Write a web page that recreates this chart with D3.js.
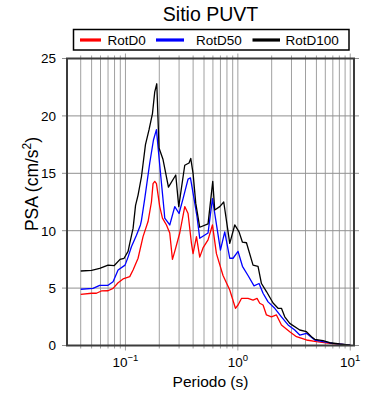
<!DOCTYPE html>
<html>
<head>
<meta charset="utf-8">
<script src="https://cdn.jsdelivr.net/npm/d3@7"></script>
<style>
body { margin: 0; background: #fff; }
text { font-family: "Liberation Sans", Arial, sans-serif; fill: #000; }
</style>
</head>
<body>
<svg id="chart" width="390" height="400"></svg>
<script>
// periods (s) and PSA (cm/s2)
var periodD100 = [0.040, 0.05, 0.059, 0.070, 0.0792, 0.0895, 0.0972, 0.1055, 0.1092, 0.1169, 0.123, 0.1295, 0.1388, 0.1507, 0.1622, 0.1739, 0.1823, 0.19, 0.199, 0.216, 0.2413, 0.2803, 0.298, 0.337, 0.368, 0.3811, 0.3995, 0.4222, 0.4581, 0.5431, 0.598, 0.6229, 0.6902, 0.749, 0.8474, 0.9385, 1.0249, 1.0988, 1.193, 1.365, 1.512, 1.622, 1.797, 2.057, 2.279, 2.443, 2.614, 2.895, 3.554, 4.077, 4.517, 4.833, 5.728, 6.571, 8.066, 10];
var valuesD100 = [6.49, 6.55, 6.72, 7.0, 6.95, 7.5, 7.6, 8.2, 8.9, 10.2, 12.2, 13.1, 14.7, 17.5, 18.8, 20.2, 22.1, 22.8, 17.2, 16.2, 13.8, 14.85, 12.1, 15.7, 15.9, 16.3, 15.0, 12.4, 10.3, 10.6, 14.3, 11.8, 12.1, 12.5, 8.9, 10.5, 9.9, 9.0, 8.95, 7.0, 6.9, 5.4, 4.7, 3.7, 3.24, 3.24, 2.5, 1.93, 1.35, 1.2, 0.77, 0.54, 0.42, 0.24, 0.13, 0.04];

var periodD50 = [0.040, 0.0515, 0.059, 0.070, 0.0776, 0.086, 0.0992, 0.1055, 0.113, 0.1253, 0.136, 0.1388, 0.1485, 0.1645, 0.1775, 0.1887, 0.2019, 0.2205, 0.2237, 0.2478, 0.2746, 0.2999, 0.3255, 0.3606, 0.3787, 0.4137, 0.4335, 0.4581, 0.5431, 0.5943, 0.7001, 0.7644, 0.8474, 0.9064, 1.004, 1.0988, 1.232, 1.393, 1.544, 1.676, 1.857, 2.13, 2.443, 2.797, 3.208, 3.554, 4.077, 4.833, 5.728, 7.03, 10];
var valuesD50 = [4.9, 4.98, 5.24, 5.24, 5.56, 6.58, 7.0, 7.7, 8.6, 9.6, 10.5, 10.9, 12.8, 15.9, 17.9, 18.8, 15.7, 11.8, 11.1, 10.5, 12.1, 11.5, 12.8, 14.5, 14.6, 12.4, 11.2, 9.34, 9.8, 12.8, 8.3, 9.9, 7.6, 7.6, 8.2, 6.9, 6.1, 5.2, 5.4, 4.55, 3.8, 3.24, 2.5, 1.79, 1.35, 0.91, 1.06, 0.48, 0.33, 0.19, 0.04];

var periodD0 = [0.040, 0.05, 0.0552, 0.0611, 0.070, 0.0776, 0.086, 0.0952, 0.1092, 0.1169, 0.1295, 0.1434, 0.1589, 0.1703, 0.176, 0.1823, 0.1887, 0.2019, 0.2134, 0.2317, 0.2478, 0.2619, 0.2746, 0.3042, 0.337, 0.3606, 0.3866, 0.3995, 0.4284, 0.4581, 0.49, 0.5431, 0.5943, 0.6449, 0.7383, 0.8474, 0.952, 1.004, 1.0765, 1.232, 1.365, 1.482, 1.566, 1.676, 1.797, 1.99, 2.205, 2.443, 2.895, 3.322, 4.077, 5.004, 6.571, 10];
var valuesD0 = [4.46, 4.55, 4.55, 4.75, 4.77, 4.98, 5.47, 5.8, 6.0, 6.58, 7.6, 9.48, 10.8, 12.5, 14.1, 14.3, 14.1, 12.1, 11.1, 10.5, 9.8, 7.5, 8.2, 9.8, 12.1, 11.5, 8.9, 8.0, 9.48, 7.7, 8.5, 9.2, 10.5, 8.0, 6.1, 4.83, 3.24, 3.53, 4.1, 4.1, 3.96, 4.1, 3.68, 3.53, 2.66, 2.5, 2.66, 1.79, 1.2, 0.77, 0.48, 0.33, 0.19, 0.04];

var seriesNames = ["RotD0", "RotD50", "RotD100"];
var seriesColors = ["#ff0000", "#0000ff", "#000000"];
var yTicks = [0, 5, 10, 15, 20, 25];
var xMajor = [0.1, 1, 10];
var xMajorSup = ["\u22121", "0", "1"];

var series = [
  {name: seriesNames[0], color: seriesColors[0], p: periodD0, v: valuesD0},
  {name: seriesNames[1], color: seriesColors[1], p: periodD50, v: valuesD50},
  {name: seriesNames[2], color: seriesColors[2], p: periodD100, v: valuesD100}
];

var plotL = 67, plotR = 354, plotT = 58.5, plotB = 345.5;

var svg = d3.select("#chart");

var x = d3.scaleLog().domain([0.0302, 10.8]).range([plotL, plotR]);
var y = d3.scaleLinear().domain([0, 25]).range([plotB, plotT]);

// log grid, every 1..9 of each decade
var xGrid = [];
[0.01, 0.1, 1, 10].forEach(function(dec){
  for (var k = 1; k < 10; k++) {
    var val = dec * k;
    if (val >= x.domain()[0] && val <= x.domain()[1]) xGrid.push(val);
  }
});

var grid = svg.append("g").attr("class", "grid");

grid.selectAll(".vgrid")
  .data(xGrid)
  .enter().append("line")
  .attr("class", "vgrid")
  .attr("x1", function(d){ return x(d); })
  .attr("x2", function(d){ return x(d); })
  .attr("y1", function(d){ return plotT - (xMajor.indexOf(d) >= 0 ? 5 : 3); })
  .attr("y2", function(d){ return plotB + (xMajor.indexOf(d) >= 0 ? 5 : 3); })
  .attr("stroke", "#a0a0a0")
  .attr("stroke-width", 1);

grid.selectAll(".hgrid")
  .data(yTicks)
  .enter().append("line")
  .attr("class", "hgrid")
  .attr("x1", plotL - 5)
  .attr("x2", plotR + 5)
  .attr("y1", function(d){ return y(d); })
  .attr("y2", function(d){ return y(d); })
  .attr("stroke", "#909090")
  .attr("stroke-width", 1);

var line = d3.line()
  .x(function(d){ return x(d[0]); })
  .y(function(d){ return y(d[1]); });

svg.append("g").selectAll("path")
  .data(series)
  .enter().append("path")
  .attr("d", function(s){ return line(d3.zip(s.p, s.v)); })
  .attr("fill", "none")
  .attr("stroke", function(s){ return s.color; })
  .attr("stroke-width", 1.3)
  .attr("stroke-linejoin", "round");

// frame
svg.append("rect")
  .attr("x", plotL).attr("y", plotT)
  .attr("width", plotR - plotL).attr("height", plotB - plotT)
  .attr("fill", "none")
  .attr("stroke", "#3c3c3c")
  .attr("stroke-width", 2);

// y tick labels
svg.append("g").selectAll("text")
  .data(yTicks)
  .enter().append("text")
  .attr("x", plotL - 11)
  .attr("y", function(d){ return y(d); })
  .attr("dy", "0.36em")
  .attr("text-anchor", "end")
  .style("font-size", "13.5px")
  .text(function(d){ return d; });

// x tick labels 10^n
var xl = svg.append("g").selectAll("text")
  .data(xMajor)
  .enter().append("text")
  .attr("x", function(d){ return x(d); })
  .attr("y", 366.5)
  .attr("text-anchor", "middle")
  .style("font-size", "13.5px");
xl.append("tspan").text("10");
xl.append("tspan")
  .attr("dy", -6)
  .style("font-size", "9.5px")
  .text(function(d, i){ return xMajorSup[i]; });

svg.append("text")
  .attr("x", (plotL + plotR) / 2)
  .attr("y", 386.5)
  .attr("text-anchor", "middle")
  .style("font-size", "15.5px")
  .text("Periodo (s)");

var yl = svg.append("text")
  .attr("transform", "translate(38,184) rotate(-90)")
  .attr("text-anchor", "middle")
  .style("font-size", "17.5px");
yl.append("tspan").text("PSA (cm/s");
yl.append("tspan").attr("dy", -7).style("font-size", "12px").text("2");
yl.append("tspan").attr("dy", 7).text(")");

svg.append("text")
  .attr("x", (plotL + plotR) / 2)
  .attr("y", 20.5)
  .attr("text-anchor", "middle")
  .style("font-size", "19.5px")
  .text("Sitio PUVT");

// legend
var leg = svg.append("g");
leg.append("rect")
  .attr("x", 73.5).attr("y", 29.5)
  .attr("width", 275.5).attr("height", 20.5)
  .attr("fill", "#fff")
  .attr("stroke", "#000")
  .attr("stroke-width", 1.5);

var legX = [80, 156, 252.5];
var legTx = [107.5, 196, 285.5];
var legLen = [21, 28, 27.5];
var item = leg.selectAll(".item")
  .data(series)
  .enter().append("g").attr("class", "item");
item.append("line")
  .attr("x1", function(d, i){ return legX[i]; })
  .attr("x2", function(d, i){ return legX[i] + legLen[i]; })
  .attr("y1", 40).attr("y2", 40)
  .attr("stroke", function(d){ return d.color; })
  .attr("stroke-width", 3.2);
item.append("text")
  .attr("x", function(d, i){ return legTx[i]; })
  .attr("y", 44.8)
  .style("font-size", "13.5px")
  .text(function(d){ return d.name; });
</script>
</body>
</html>
